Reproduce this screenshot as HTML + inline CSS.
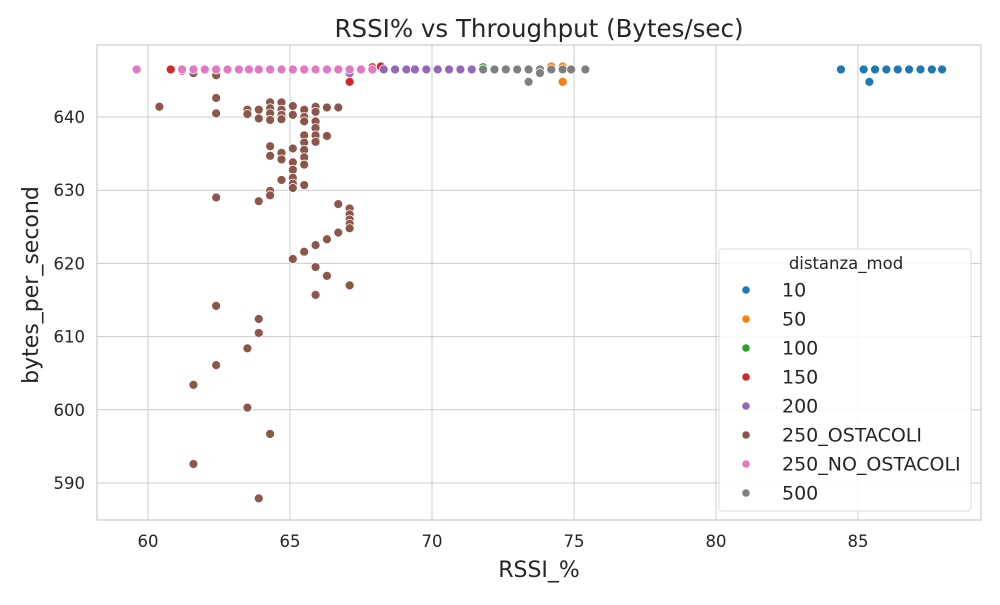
<!DOCTYPE html>
<html><head><meta charset="utf-8"><style>
body{margin:0;background:#fff;}
svg{font-family:"DejaVu Sans","Liberation Sans",sans-serif;}
</style></head><body>
<svg id="chart" width="1000" height="600" xmlns="http://www.w3.org/2000/svg">
<rect width="1000" height="600" fill="#fff"/>
<text x="539" y="37" font-size="24.5" text-anchor="middle" fill="#262626">RSSI% vs Throughput (Bytes/sec)</text>
<g id="grid"></g><g id="pts"></g>
<rect x="97" y="45" width="884" height="475" fill="none" stroke="#ccc" stroke-width="1.2"/>
<text x="539" y="577" font-size="22" text-anchor="middle" fill="#262626">RSSI_%</text>
<text transform="translate(38,285) rotate(-90)" font-size="22" text-anchor="middle" fill="#262626">bytes_per_second</text>
<g id="legend">
<rect x="719" y="249" width="252" height="262" rx="3" fill="#fff" fill-opacity="0.85" stroke="#ddd"/>
<text x="846" y="269" font-size="16.5" text-anchor="middle" fill="#262626">distanza_mod</text>
</g>
</svg>
<script>
const NS="http://www.w3.org/2000/svg";
const categories=["10","50","100","150","200","250_OSTACOLI","250_NO_OSTACOLI","500"];
const colors=["#1f77b4","#ff7f0e","#2ca02c","#d62728","#9467bd","#8c564b","#e377c2","#7f7f7f"];
const xTicks=[60,65,70,75,80,85];
const yTicks=[590,600,610,620,630,640];
const s10x=[84.4,85.2,85.6,86.0,86.4,86.8,87.2,87.6,87.96,85.4];
const s10y=[646.5,646.5,646.5,646.5,646.5,646.5,646.5,646.5,646.5,644.8];
const s50x=[74.2,74.6,74.6];
const s50y=[646.9,646.9,644.8];
const s100x=[71.8];
const s100y=[646.8];
const s150x=[60.8,67.1,67.9,68.2];
const s150y=[646.5,644.8,646.8,646.9];
const s200x=[67.1,68.3,68.7,69.1,69.4,69.8,70.2,70.6,71.0,71.4];
const s200y=[646.0,646.5,646.5,646.5,646.5,646.5,646.5,646.5,646.5,646.5];
const sObx=[61.2,61.6,62.4,60.4,62.4,62.4,63.5,63.5,63.9,63.9,64.3,64.3,64.3,64.3,64.7,64.7,64.7,64.7,65.1,65.1,65.5,65.5,65.5,65.9,65.9,65.9,65.9,65.9,65.9,66.3,66.3,66.7,64.3,64.3,64.7,64.7,65.1,65.1,65.1,65.1,65.1,65.1,65.5,65.5,65.5,65.5,65.5,65.5,64.7,64.3,64.3,62.4,63.9,66.7,67.1,67.1,67.1,67.1,67.1,66.7,66.3,65.9,65.5,65.1,65.9,66.3,67.1,65.9,62.4,63.9,63.9,63.5,62.4,61.6,63.5,64.3,61.6,63.9];
const sOby=[646.3,646.0,645.7,641.4,642.6,640.5,641.0,640.4,641.0,639.8,642.0,641.2,640.5,639.6,642.0,641.0,640.3,639.7,641.5,640.3,641.0,640.0,639.4,641.4,640.7,639.4,638.5,637.5,636.6,641.3,637.4,641.3,636.0,634.7,635.1,634.2,635.7,633.8,632.8,631.7,630.9,630.3,637.5,636.5,635.5,634.5,633.5,630.7,631.4,629.9,629.3,629.0,628.5,628.1,627.5,626.7,626.0,625.4,624.8,624.2,623.3,622.5,621.6,620.6,619.5,618.3,617.0,615.7,614.2,612.4,610.5,608.4,606.1,603.4,600.3,596.7,592.6,587.9];
const sNox=[59.6,61.2,61.6,62.0,62.4,62.8,63.2,63.55,63.9,64.3,64.7,65.1,65.5,65.9,66.3,66.7,67.1,67.5,67.9];
const sNoy=[646.5,646.5,646.5,646.5,646.5,646.5,646.5,646.5,646.5,646.5,646.5,646.5,646.5,646.5,646.5,646.5,646.5,646.5,646.5];
const s500x=[71.8,72.2,72.6,73.0,73.4,73.8,74.2,74.6,74.9,75.4,73.4,73.8];
const s500y=[646.5,646.5,646.5,646.5,646.5,646.5,646.5,646.5,646.5,646.5,644.8,646.0];
const series=[[s10x,s10y],[s50x,s50y],[s100x,s100y],[s150x,s150y],[s200x,s200y],[sObx,sOby],[sNox,sNoy],[s500x,s500y]];
const drawOrder=[0,1,2,3,4,5,6,7];
function X(v){return 148+(v-60)*28.4;}
function Y(v){return 117-(v-640)*7.32;}
const grid=document.getElementById('grid');
xTicks.forEach(t=>{
 const l=document.createElementNS(NS,'line');
 
 
 l.setAttribute('x1',X(t));l.setAttribute('x2',X(t));l.setAttribute('y1',45);l.setAttribute('y2',520);
 l.setAttribute('stroke','#ccc');grid.appendChild(l);
 const tx=document.createElementNS(NS,'text');
 
 
 tx.setAttribute('x',X(t));tx.setAttribute('y',547);tx.setAttribute('font-size','16.5');tx.setAttribute('text-anchor','middle');tx.setAttribute('fill','#262626');
 tx.textContent=t;grid.appendChild(tx);
});
yTicks.forEach(t=>{
 const l=document.createElementNS(NS,'line');
 
 
 l.setAttribute('x1',97);l.setAttribute('x2',981);l.setAttribute('y1',Y(t));l.setAttribute('y2',Y(t));
 l.setAttribute('stroke','#ccc');grid.appendChild(l);
 const tx=document.createElementNS(NS,'text');
 
 
 tx.setAttribute('x',85);tx.setAttribute('y',Y(t)+6);tx.setAttribute('font-size','16.5');tx.setAttribute('text-anchor','end');tx.setAttribute('fill','#262626');
 tx.textContent=t;grid.appendChild(tx);
});
const pts=document.getElementById('pts');
drawOrder.forEach(i=>{
 const [xs,ys]=series[i];
 xs.forEach((xv,j)=>{
  const c=document.createElementNS(NS,'circle');
  
  
  c.setAttribute('cx',X(xv));c.setAttribute('cy',Y(ys[j]));c.setAttribute('r',4.5);
  c.setAttribute('fill',colors[i]);c.setAttribute('stroke','#fff');c.setAttribute('stroke-width','0.8');
  pts.appendChild(c);
 });
});
const lg=document.getElementById('legend');
categories.forEach((c,i)=>{
 const y=290+i*29;
 const m=document.createElementNS(NS,'circle');
 
 
 m.setAttribute('cx',746);m.setAttribute('cy',y);m.setAttribute('r',3.8);m.setAttribute('fill',colors[i]);
 lg.appendChild(m);
 const t=document.createElementNS(NS,'text');
 
 
 t.setAttribute('x',782);t.setAttribute('y',y+6.5);t.setAttribute('font-size','19');t.setAttribute('fill','#262626');
 t.textContent=c;lg.appendChild(t);
});
</script>
</body></html>
